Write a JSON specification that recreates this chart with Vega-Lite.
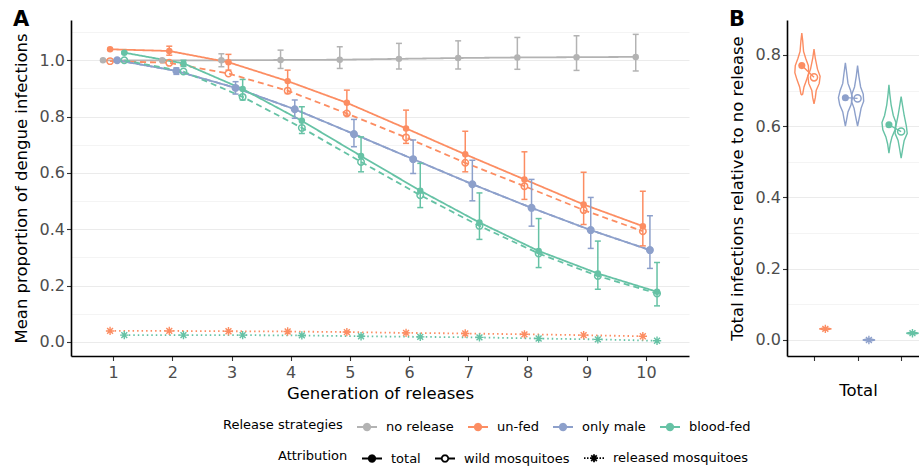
{
  "$schema": "https://vega.github.io/schema/vega-lite/v6.json",
  "padding": {"left": 13, "top": 9, "right": 0, "bottom": 0},
  "spacing": 40,
  "config": {
    "font": "DejaVu Sans",
    "view": {"stroke": null},
    "axis": {"domainColor": "black", "domainWidth": 1.6, "tickColor": "#333333", "tickWidth": 1.1, "tickSize": 4.5, "labelColor": "#4D4D4D", "labelFontSize": 16, "titleFontSize": 16.5, "titleFontWeight": "normal", "titleColor": "black", "grid": false, "labelFont": "DejaVu Sans", "titleFont": "DejaVu Sans"},
    "legend": {"padding": 0, "labelFont": "DejaVu Sans", "titleFont": "DejaVu Sans", "labelFontSize": 13, "titleFontSize": 13, "titleFontWeight": "normal", "labelColor": "black", "titleColor": "black"},
    "title": {"anchor": "start", "frame": "bounds", "fontSize": 21, "fontWeight": "bold", "font": "DejaVu Sans", "offset": -10, "baseline": "alphabetic", "color": "black"}
  },
  "datasets": {
    "a": [
      {"gen": 1, "strategy": "no release", "attribution": "total", "value": 1.0, "lo": 0.998, "hi": 1.002},
      {"gen": 2, "strategy": "no release", "attribution": "total", "value": 1.0, "lo": 0.995, "hi": 1.005},
      {"gen": 3, "strategy": "no release", "attribution": "total", "value": 1.0, "lo": 0.977, "hi": 1.023},
      {"gen": 4, "strategy": "no release", "attribution": "total", "value": 1.001, "lo": 0.971, "hi": 1.036},
      {"gen": 5, "strategy": "no release", "attribution": "total", "value": 1.002, "lo": 0.971, "hi": 1.048},
      {"gen": 6, "strategy": "no release", "attribution": "total", "value": 1.005, "lo": 0.969, "hi": 1.06},
      {"gen": 7, "strategy": "no release", "attribution": "total", "value": 1.008, "lo": 0.969, "hi": 1.069},
      {"gen": 8, "strategy": "no release", "attribution": "total", "value": 1.01, "lo": 0.968, "hi": 1.081},
      {"gen": 9, "strategy": "no release", "attribution": "total", "value": 1.011, "lo": 0.964, "hi": 1.087},
      {"gen": 10, "strategy": "no release", "attribution": "total", "value": 1.012, "lo": 0.962, "hi": 1.092},
      {"gen": 1, "strategy": "un-fed", "attribution": "total", "value": 1.039, "lo": 1.036, "hi": 1.042},
      {"gen": 2, "strategy": "un-fed", "attribution": "total", "value": 1.033, "lo": 1.018, "hi": 1.05},
      {"gen": 3, "strategy": "un-fed", "attribution": "total", "value": 0.993, "lo": 0.965, "hi": 1.021},
      {"gen": 4, "strategy": "un-fed", "attribution": "total", "value": 0.926, "lo": 0.882, "hi": 0.965},
      {"gen": 5, "strategy": "un-fed", "attribution": "total", "value": 0.849, "lo": 0.805, "hi": 0.894},
      {"gen": 6, "strategy": "un-fed", "attribution": "total", "value": 0.758, "lo": 0.705, "hi": 0.823},
      {"gen": 7, "strategy": "un-fed", "attribution": "total", "value": 0.666, "lo": 0.604, "hi": 0.748},
      {"gen": 8, "strategy": "un-fed", "attribution": "total", "value": 0.577, "lo": 0.506, "hi": 0.675},
      {"gen": 9, "strategy": "un-fed", "attribution": "total", "value": 0.488, "lo": 0.417, "hi": 0.602},
      {"gen": 10, "strategy": "un-fed", "attribution": "total", "value": 0.411, "lo": 0.341, "hi": 0.535},
      {"gen": 1, "strategy": "un-fed", "attribution": "wild mosquitoes", "value": 0.997},
      {"gen": 2, "strategy": "un-fed", "attribution": "wild mosquitoes", "value": 0.991},
      {"gen": 3, "strategy": "un-fed", "attribution": "wild mosquitoes", "value": 0.953},
      {"gen": 4, "strategy": "un-fed", "attribution": "wild mosquitoes", "value": 0.892},
      {"gen": 5, "strategy": "un-fed", "attribution": "wild mosquitoes", "value": 0.811},
      {"gen": 6, "strategy": "un-fed", "attribution": "wild mosquitoes", "value": 0.726},
      {"gen": 7, "strategy": "un-fed", "attribution": "wild mosquitoes", "value": 0.636},
      {"gen": 8, "strategy": "un-fed", "attribution": "wild mosquitoes", "value": 0.553},
      {"gen": 9, "strategy": "un-fed", "attribution": "wild mosquitoes", "value": 0.468},
      {"gen": 10, "strategy": "un-fed", "attribution": "wild mosquitoes", "value": 0.393},
      {"gen": 1, "strategy": "un-fed", "attribution": "released mosquitoes", "value": 0.039},
      {"gen": 2, "strategy": "un-fed", "attribution": "released mosquitoes", "value": 0.039},
      {"gen": 3, "strategy": "un-fed", "attribution": "released mosquitoes", "value": 0.038},
      {"gen": 4, "strategy": "un-fed", "attribution": "released mosquitoes", "value": 0.037},
      {"gen": 5, "strategy": "un-fed", "attribution": "released mosquitoes", "value": 0.035},
      {"gen": 6, "strategy": "un-fed", "attribution": "released mosquitoes", "value": 0.032},
      {"gen": 7, "strategy": "un-fed", "attribution": "released mosquitoes", "value": 0.03},
      {"gen": 8, "strategy": "un-fed", "attribution": "released mosquitoes", "value": 0.027},
      {"gen": 9, "strategy": "un-fed", "attribution": "released mosquitoes", "value": 0.024},
      {"gen": 10, "strategy": "un-fed", "attribution": "released mosquitoes", "value": 0.02},
      {"gen": 1, "strategy": "only male", "attribution": "total", "value": 1.0, "lo": 0.998, "hi": 1.002},
      {"gen": 2, "strategy": "only male", "attribution": "total", "value": 0.962, "lo": 0.95, "hi": 0.973},
      {"gen": 3, "strategy": "only male", "attribution": "total", "value": 0.902, "lo": 0.88, "hi": 0.924},
      {"gen": 4, "strategy": "only male", "attribution": "total", "value": 0.826, "lo": 0.794, "hi": 0.859},
      {"gen": 5, "strategy": "only male", "attribution": "total", "value": 0.738, "lo": 0.693, "hi": 0.79},
      {"gen": 6, "strategy": "only male", "attribution": "total", "value": 0.649, "lo": 0.598, "hi": 0.717},
      {"gen": 7, "strategy": "only male", "attribution": "total", "value": 0.56, "lo": 0.501, "hi": 0.645},
      {"gen": 8, "strategy": "only male", "attribution": "total", "value": 0.476, "lo": 0.411, "hi": 0.577},
      {"gen": 9, "strategy": "only male", "attribution": "total", "value": 0.397, "lo": 0.332, "hi": 0.513},
      {"gen": 10, "strategy": "only male", "attribution": "total", "value": 0.326, "lo": 0.261, "hi": 0.448},
      {"gen": 1, "strategy": "only male", "attribution": "wild mosquitoes", "value": 1.0},
      {"gen": 2, "strategy": "only male", "attribution": "wild mosquitoes", "value": 0.962},
      {"gen": 3, "strategy": "only male", "attribution": "wild mosquitoes", "value": 0.902},
      {"gen": 4, "strategy": "only male", "attribution": "wild mosquitoes", "value": 0.826},
      {"gen": 5, "strategy": "only male", "attribution": "wild mosquitoes", "value": 0.738},
      {"gen": 6, "strategy": "only male", "attribution": "wild mosquitoes", "value": 0.649},
      {"gen": 7, "strategy": "only male", "attribution": "wild mosquitoes", "value": 0.56},
      {"gen": 8, "strategy": "only male", "attribution": "wild mosquitoes", "value": 0.476},
      {"gen": 9, "strategy": "only male", "attribution": "wild mosquitoes", "value": 0.397},
      {"gen": 10, "strategy": "only male", "attribution": "wild mosquitoes", "value": 0.326},
      {"gen": 1, "strategy": "blood-fed", "attribution": "total", "value": 1.027, "lo": 1.024, "hi": 1.03},
      {"gen": 2, "strategy": "blood-fed", "attribution": "total", "value": 0.989, "lo": 0.978, "hi": 1.0},
      {"gen": 3, "strategy": "blood-fed", "attribution": "total", "value": 0.898, "lo": 0.859, "hi": 0.932},
      {"gen": 4, "strategy": "blood-fed", "attribution": "total", "value": 0.785, "lo": 0.74, "hi": 0.835},
      {"gen": 5, "strategy": "blood-fed", "attribution": "total", "value": 0.66, "lo": 0.604, "hi": 0.728},
      {"gen": 6, "strategy": "blood-fed", "attribution": "total", "value": 0.537, "lo": 0.477, "hi": 0.634},
      {"gen": 7, "strategy": "blood-fed", "attribution": "total", "value": 0.424, "lo": 0.364, "hi": 0.529},
      {"gen": 8, "strategy": "blood-fed", "attribution": "total", "value": 0.323, "lo": 0.264, "hi": 0.438},
      {"gen": 9, "strategy": "blood-fed", "attribution": "total", "value": 0.243, "lo": 0.187, "hi": 0.358},
      {"gen": 10, "strategy": "blood-fed", "attribution": "total", "value": 0.178, "lo": 0.128, "hi": 0.282},
      {"gen": 1, "strategy": "blood-fed", "attribution": "wild mosquitoes", "value": 1.0},
      {"gen": 2, "strategy": "blood-fed", "attribution": "wild mosquitoes", "value": 0.96},
      {"gen": 3, "strategy": "blood-fed", "attribution": "wild mosquitoes", "value": 0.87},
      {"gen": 4, "strategy": "blood-fed", "attribution": "wild mosquitoes", "value": 0.76},
      {"gen": 5, "strategy": "blood-fed", "attribution": "wild mosquitoes", "value": 0.639},
      {"gen": 6, "strategy": "blood-fed", "attribution": "wild mosquitoes", "value": 0.521},
      {"gen": 7, "strategy": "blood-fed", "attribution": "wild mosquitoes", "value": 0.412},
      {"gen": 8, "strategy": "blood-fed", "attribution": "wild mosquitoes", "value": 0.314},
      {"gen": 9, "strategy": "blood-fed", "attribution": "wild mosquitoes", "value": 0.234},
      {"gen": 10, "strategy": "blood-fed", "attribution": "wild mosquitoes", "value": 0.172},
      {"gen": 1, "strategy": "blood-fed", "attribution": "released mosquitoes", "value": 0.024},
      {"gen": 2, "strategy": "blood-fed", "attribution": "released mosquitoes", "value": 0.024},
      {"gen": 3, "strategy": "blood-fed", "attribution": "released mosquitoes", "value": 0.024},
      {"gen": 4, "strategy": "blood-fed", "attribution": "released mosquitoes", "value": 0.023},
      {"gen": 5, "strategy": "blood-fed", "attribution": "released mosquitoes", "value": 0.02},
      {"gen": 6, "strategy": "blood-fed", "attribution": "released mosquitoes", "value": 0.018},
      {"gen": 7, "strategy": "blood-fed", "attribution": "released mosquitoes", "value": 0.016},
      {"gen": 8, "strategy": "blood-fed", "attribution": "released mosquitoes", "value": 0.012},
      {"gen": 9, "strategy": "blood-fed", "attribution": "released mosquitoes", "value": 0.009},
      {"gen": 10, "strategy": "blood-fed", "attribution": "released mosquitoes", "value": 0.004}
    ],
    "violin": [
      {"strategy": "un-fed", "attribution": "total", "value": 0.861, "xmin": 0.72, "xmax": 0.72},
      {"strategy": "un-fed", "attribution": "total", "value": 0.84, "xmin": 0.70, "xmax": 0.74},
      {"strategy": "un-fed", "attribution": "total", "value": 0.81, "xmin": 0.68, "xmax": 0.76},
      {"strategy": "un-fed", "attribution": "total", "value": 0.79, "xmin": 0.63, "xmax": 0.81},
      {"strategy": "un-fed", "attribution": "total", "value": 0.77, "xmin": 0.57, "xmax": 0.87},
      {"strategy": "un-fed", "attribution": "total", "value": 0.75, "xmin": 0.56, "xmax": 0.88},
      {"strategy": "un-fed", "attribution": "total", "value": 0.73, "xmin": 0.61, "xmax": 0.83},
      {"strategy": "un-fed", "attribution": "total", "value": 0.71, "xmin": 0.67, "xmax": 0.77},
      {"strategy": "un-fed", "attribution": "total", "value": 0.69, "xmin": 0.70, "xmax": 0.74},
      {"strategy": "un-fed", "attribution": "total", "value": 0.688, "xmin": 0.72, "xmax": 0.72},
      {"strategy": "un-fed", "attribution": "wild mosquitoes", "value": 0.816, "xmin": 1.0, "xmax": 1.0},
      {"strategy": "un-fed", "attribution": "wild mosquitoes", "value": 0.79, "xmin": 0.97, "xmax": 1.03},
      {"strategy": "un-fed", "attribution": "wild mosquitoes", "value": 0.76, "xmin": 0.92, "xmax": 1.08},
      {"strategy": "un-fed", "attribution": "wild mosquitoes", "value": 0.74, "xmin": 0.86, "xmax": 1.14},
      {"strategy": "un-fed", "attribution": "wild mosquitoes", "value": 0.72, "xmin": 0.88, "xmax": 1.12},
      {"strategy": "un-fed", "attribution": "wild mosquitoes", "value": 0.70, "xmin": 0.95, "xmax": 1.05},
      {"strategy": "un-fed", "attribution": "wild mosquitoes", "value": 0.68, "xmin": 0.97, "xmax": 1.03},
      {"strategy": "un-fed", "attribution": "wild mosquitoes", "value": 0.663, "xmin": 1.0, "xmax": 1.0},
      {"strategy": "only male", "attribution": "total", "value": 0.778, "xmin": 1.72, "xmax": 1.72},
      {"strategy": "only male", "attribution": "total", "value": 0.75, "xmin": 1.69, "xmax": 1.75},
      {"strategy": "only male", "attribution": "total", "value": 0.72, "xmin": 1.66, "xmax": 1.78},
      {"strategy": "only male", "attribution": "total", "value": 0.70, "xmin": 1.60, "xmax": 1.84},
      {"strategy": "only male", "attribution": "total", "value": 0.68, "xmin": 1.56, "xmax": 1.88},
      {"strategy": "only male", "attribution": "total", "value": 0.66, "xmin": 1.59, "xmax": 1.85},
      {"strategy": "only male", "attribution": "total", "value": 0.64, "xmin": 1.66, "xmax": 1.78},
      {"strategy": "only male", "attribution": "total", "value": 0.62, "xmin": 1.69, "xmax": 1.75},
      {"strategy": "only male", "attribution": "total", "value": 0.60, "xmin": 1.72, "xmax": 1.72},
      {"strategy": "only male", "attribution": "wild mosquitoes", "value": 0.77, "xmin": 2.0, "xmax": 2.0},
      {"strategy": "only male", "attribution": "wild mosquitoes", "value": 0.74, "xmin": 1.97, "xmax": 2.03},
      {"strategy": "only male", "attribution": "wild mosquitoes", "value": 0.71, "xmin": 1.93, "xmax": 2.07},
      {"strategy": "only male", "attribution": "wild mosquitoes", "value": 0.69, "xmin": 1.87, "xmax": 2.13},
      {"strategy": "only male", "attribution": "wild mosquitoes", "value": 0.67, "xmin": 1.86, "xmax": 2.14},
      {"strategy": "only male", "attribution": "wild mosquitoes", "value": 0.65, "xmin": 1.92, "xmax": 2.08},
      {"strategy": "only male", "attribution": "wild mosquitoes", "value": 0.63, "xmin": 1.95, "xmax": 2.05},
      {"strategy": "only male", "attribution": "wild mosquitoes", "value": 0.60, "xmin": 2.0, "xmax": 2.0},
      {"strategy": "blood-fed", "attribution": "total", "value": 0.716, "xmin": 2.72, "xmax": 2.72},
      {"strategy": "blood-fed", "attribution": "total", "value": 0.69, "xmin": 2.70, "xmax": 2.74},
      {"strategy": "blood-fed", "attribution": "total", "value": 0.66, "xmin": 2.67, "xmax": 2.77},
      {"strategy": "blood-fed", "attribution": "total", "value": 0.63, "xmin": 2.62, "xmax": 2.82},
      {"strategy": "blood-fed", "attribution": "total", "value": 0.61, "xmin": 2.56, "xmax": 2.88},
      {"strategy": "blood-fed", "attribution": "total", "value": 0.59, "xmin": 2.58, "xmax": 2.86},
      {"strategy": "blood-fed", "attribution": "total", "value": 0.57, "xmin": 2.65, "xmax": 2.79},
      {"strategy": "blood-fed", "attribution": "total", "value": 0.55, "xmin": 2.69, "xmax": 2.75},
      {"strategy": "blood-fed", "attribution": "total", "value": 0.524, "xmin": 2.72, "xmax": 2.72},
      {"strategy": "blood-fed", "attribution": "wild mosquitoes", "value": 0.683, "xmin": 3.0, "xmax": 3.0},
      {"strategy": "blood-fed", "attribution": "wild mosquitoes", "value": 0.66, "xmin": 2.97, "xmax": 3.03},
      {"strategy": "blood-fed", "attribution": "wild mosquitoes", "value": 0.63, "xmin": 2.93, "xmax": 3.07},
      {"strategy": "blood-fed", "attribution": "wild mosquitoes", "value": 0.60, "xmin": 2.88, "xmax": 3.12},
      {"strategy": "blood-fed", "attribution": "wild mosquitoes", "value": 0.58, "xmin": 2.86, "xmax": 3.14},
      {"strategy": "blood-fed", "attribution": "wild mosquitoes", "value": 0.56, "xmin": 2.93, "xmax": 3.07},
      {"strategy": "blood-fed", "attribution": "wild mosquitoes", "value": 0.54, "xmin": 2.96, "xmax": 3.04},
      {"strategy": "blood-fed", "attribution": "wild mosquitoes", "value": 0.51, "xmin": 3.0, "xmax": 3.0},
      {"strategy": "un-fed", "attribution": "released mosquitoes", "value": 0.035, "xmin": 1.26, "xmax": 1.26},
      {"strategy": "un-fed", "attribution": "released mosquitoes", "value": 0.031, "xmin": 1.12, "xmax": 1.40},
      {"strategy": "un-fed", "attribution": "released mosquitoes", "value": 0.027, "xmin": 1.26, "xmax": 1.26},
      {"strategy": "only male", "attribution": "released mosquitoes", "value": 0.004, "xmin": 2.26, "xmax": 2.26},
      {"strategy": "only male", "attribution": "released mosquitoes", "value": 0.0, "xmin": 2.12, "xmax": 2.40},
      {"strategy": "only male", "attribution": "released mosquitoes", "value": -0.004, "xmin": 2.26, "xmax": 2.26},
      {"strategy": "blood-fed", "attribution": "released mosquitoes", "value": 0.023, "xmin": 3.26, "xmax": 3.26},
      {"strategy": "blood-fed", "attribution": "released mosquitoes", "value": 0.019, "xmin": 3.12, "xmax": 3.40},
      {"strategy": "blood-fed", "attribution": "released mosquitoes", "value": 0.015, "xmin": 3.26, "xmax": 3.26}
    ],
    "bpts": [
      {"strategy": "un-fed", "attribution": "total", "x": 0.72, "value": 0.77},
      {"strategy": "un-fed", "attribution": "wild mosquitoes", "x": 1.0, "value": 0.737},
      {"strategy": "un-fed", "attribution": "released mosquitoes", "x": 1.26, "value": 0.031},
      {"strategy": "only male", "attribution": "total", "x": 1.72, "value": 0.68},
      {"strategy": "only male", "attribution": "wild mosquitoes", "x": 2.0, "value": 0.678},
      {"strategy": "only male", "attribution": "released mosquitoes", "x": 2.26, "value": 0.0},
      {"strategy": "blood-fed", "attribution": "total", "x": 2.72, "value": 0.604},
      {"strategy": "blood-fed", "attribution": "wild mosquitoes", "x": 3.0, "value": 0.585},
      {"strategy": "blood-fed", "attribution": "released mosquitoes", "x": 3.26, "value": 0.019}
    ]
  },
  "hconcat": [
    {
      "width": 618,
      "height": 336,
      "title": {"text": "A"},
      "data": {"name": "a"},
      "encoding": {
        "x": {"field": "gen", "type": "ordinal", "scale": {"type": "band", "paddingInner": 0, "paddingOuter": 0.22}, "axis": {"title": "Generation of releases", "labelAngle": 0, "labelPadding": 4, "titlePadding": 5}},
        "xOffset": {"field": "strategy", "type": "nominal", "scale": {"domain": ["no release", "un-fed", "only male", "blood-fed"], "range": [15.4, 43.8], "paddingInner": 0, "paddingOuter": 0}},
        "y": {"field": "value", "type": "quantitative", "scale": {"domain": [-0.05, 1.143], "nice": false, "zero": false},
          "axis": {"title": "Mean proportion of dengue infections", "values": [0, 0.1, 0.2, 0.3, 0.4, 0.5, 0.6, 0.7, 0.8, 0.9, 1.0, 1.1], "grid": true,
            "gridColor": {"condition": {"test": "round(datum.value*10) % 2 === 0", "value": "#EBEBEB"}, "value": "#F4F4F4"},
            "gridWidth": 1.1,
            "labelExpr": "round(datum.value*10) % 2 === 0 ? format(datum.value, '.1f') : ''",
            "tickOpacity": {"condition": {"test": "round(datum.value*10) % 2 === 0", "value": 1}, "value": 0},
            "labelPadding": 2, "titlePadding": 10}},
        "color": {"field": "strategy", "type": "nominal", "scale": {"domain": ["no release", "un-fed", "only male", "blood-fed"], "range": ["#B3B3B3", "#FC8D62", "#8DA0CB", "#66C2A5"]},
          "legend": {"orient": "none", "legendX": 152, "legendY": 396, "direction": "horizontal", "title": "Release strategies", "titleOrient": "left", "titlePadding": 13, "titleBaseline": "middle", "titleAnchor": "middle",
            "symbolType": "M-1,0L1,0M0.33,0L0.286,0.165L0.165,0.286L0,0.33L-0.165,0.286L-0.286,0.165L-0.33,0L-0.286,-0.165L-0.165,-0.286L0,-0.33L0.165,-0.286L0.286,-0.165Z", "symbolSize": 400, "symbolStrokeWidth": 1.8, "labelOffset": 8, "columnPadding": 10,
            "encode": {"symbols": {"update": {"fill": {"signal": "{'no release':'#B3B3B3','un-fed':'#FC8D62','only male':'#8DA0CB','blood-fed':'#66C2A5'}[datum.value]"}, "stroke": {"signal": "{'no release':'#B3B3B3','un-fed':'#FC8D62','only male':'#8DA0CB','blood-fed':'#66C2A5'}[datum.value]"}, "opacity": {"value": 1}, "strokeDash": {"signal": "[1,0]"}}}}}}
      },
      "layer": [
        {
          "mark": {"type": "line", "strokeWidth": 1.8},
          "encoding": {
            "strokeDash": {"field": "attribution", "type": "nominal", "scale": {"domain": ["total", "wild mosquitoes", "released mosquitoes"], "range": [[1, 0], [6, 4], [1.5, 3]]},
              "legend": {"orient": "none", "legendX": 207, "legendY": 427, "direction": "horizontal", "title": "Attribution", "titleOrient": "left", "titlePadding": 13, "titleBaseline": "middle", "titleAnchor": "middle",
                "symbolSize": 400, "symbolStrokeWidth": 1.8, "labelOffset": 8, "columnPadding": 10,
                "encode": {"symbols": {"update": {
                  "shape": {"signal": "datum.value === 'total' ? 'M-1,0L1,0M0.33,0L0.286,0.165L0.165,0.286L0,0.33L-0.165,0.286L-0.286,0.165L-0.33,0L-0.286,-0.165L-0.165,-0.286L0,-0.33L0.165,-0.286L0.286,-0.165Z' : datum.value === 'wild mosquitoes' ? 'M-1,0L-0.66,0M-0.66,0L-0.33,0M0.33,0L0.66,0M0.66,0L1,0M0.33,0L0.286,0.165L0.165,0.286L0,0.33M0,0.33L-0.165,0.286L-0.286,0.165L-0.33,0M-0.33,0L-0.286,-0.165L-0.165,-0.286L0,-0.33M0,-0.33L0.165,-0.286L0.286,-0.165L0.33,0' : 'M-1,0L-0.85,0M-0.7,0L-0.55,0M0.55,0L0.7,0M0.85,0L1,0M0,0L0.14,0M0.14,0L0.28,0M0.28,0L0.4,0M0,0L-0.14,0M-0.14,0L-0.28,0M-0.28,0L-0.4,0M0,0L0,0.14M0,0.14L0,0.28M0,0.28L0,0.4M0,0L0,-0.14M0,-0.14L0,-0.28M0,-0.28L0,-0.4M0,0L0.1,0.1M0.1,0.1L0.2,0.2M0.2,0.2L0.28,0.28M0,0L-0.1,-0.1M-0.1,-0.1L-0.2,-0.2M-0.2,-0.2L-0.28,-0.28M0,0L0.1,-0.1M0.1,-0.1L0.2,-0.2M0.2,-0.2L0.28,-0.28M0,0L-0.1,0.1M-0.1,0.1L-0.2,0.2M-0.2,0.2L-0.28,0.28'"},
                  "fill": {"signal": "datum.value === 'total' ? 'black' : 'transparent'"},
                  "stroke": {"value": "black"}, "opacity": {"value": 1}, "strokeDash": {"signal": "[1,0]"}}}}}}
          }
        },
        {
          "transform": [{"filter": "datum.lo != null"}],
          "mark": {"type": "rule", "strokeWidth": 1.5},
          "encoding": {
            "y": {"field": "lo", "type": "quantitative"},
            "y2": {"field": "hi"}
          }
        },
        {
          "transform": [{"filter": "datum.lo != null"}],
          "mark": {"type": "tick", "orient": "horizontal", "size": 6, "thickness": 1.5, "opacity": 1},
          "encoding": {
            "y": {"field": "lo", "type": "quantitative"}
          }
        },
        {
          "transform": [{"filter": "datum.lo != null"}],
          "mark": {"type": "tick", "orient": "horizontal", "size": 6, "thickness": 1.5, "opacity": 1},
          "encoding": {
            "y": {"field": "hi", "type": "quantitative"}
          }
        },
        {
          "transform": [{"filter": "datum.attribution === 'total'"}],
          "mark": {"type": "point", "filled": true, "shape": "circle", "size": 42, "opacity": 1}
        },
        {
          "transform": [{"filter": "datum.attribution === 'wild mosquitoes'"}],
          "mark": {"type": "point", "filled": false, "shape": "circle", "size": 42, "strokeWidth": 1.5, "opacity": 1}
        },
        {
          "transform": [{"filter": "datum.attribution === 'released mosquitoes'"}],
          "mark": {"type": "point", "filled": false, "shape": "M-1,0L1,0M0,-1L0,1M-0.7,-0.7L0.7,0.7M-0.7,0.7L0.7,-0.7", "size": 70, "strokeWidth": 1.4, "opacity": 1}
        }
      ]
    },
    {
      "width": 132,
      "height": 336,
      "title": {"text": "B"},
      "encoding": {
        "y": {"field": "value", "type": "quantitative", "scale": {"domain": [-0.045, 0.898], "nice": false, "zero": false},
          "axis": {"title": "Total infections relative to no release", "values": [0, 0.1, 0.2, 0.3, 0.4, 0.5, 0.6, 0.7, 0.8], "grid": true,
            "gridColor": {"condition": {"test": "round(datum.value*10) % 2 === 0", "value": "#EBEBEB"}, "value": "#F4F4F4"},
            "gridWidth": 1.1,
            "labelExpr": "round(datum.value*10) % 2 === 0 ? format(datum.value, '.1f') : ''",
            "tickOpacity": {"condition": {"test": "round(datum.value*10) % 2 === 0", "value": 1}, "value": 0},
            "labelPadding": 2, "titlePadding": 10}},
        "x": {"field": "x", "type": "quantitative", "scale": {"domain": [0.38, 3.41], "nice": false, "zero": false},
          "axis": {"title": "Total", "values": [1, 2, 3], "labels": false, "titlePadding": 21, "titleX": 71}},
        "color": {"field": "strategy", "type": "nominal", "legend": null}
      },
      "layer": [
        {
          "data": {"name": "violin"},
          "mark": {"type": "area", "orient": "horizontal", "filled": false, "strokeWidth": 1.4, "clip": true},
          "encoding": {
            "x": {"field": "xmin", "type": "quantitative", "stack": null},
            "x2": {"field": "xmax"},
            "detail": {"field": "attribution"},
            "strokeDash": {"field": "attribution", "type": "nominal", "legend": null}
          }
        },
        {
          "data": {"name": "bpts"},
          "transform": [{"filter": "datum.attribution !== 'released mosquitoes'"}],
          "mark": {"type": "line", "strokeWidth": 1.4, "clip": true},
          "encoding": {
            "detail": {"field": "strategy"}
          }
        },
        {
          "data": {"name": "bpts"},
          "transform": [{"filter": "datum.attribution === 'total'"}],
          "mark": {"type": "point", "filled": true, "shape": "circle", "size": 50, "opacity": 1, "clip": true}
        },
        {
          "data": {"name": "bpts"},
          "transform": [{"filter": "datum.attribution === 'wild mosquitoes'"}],
          "mark": {"type": "point", "filled": false, "shape": "circle", "size": 50, "strokeWidth": 1.5, "opacity": 1, "clip": true}
        },
        {
          "data": {"name": "bpts"},
          "transform": [{"filter": "datum.attribution === 'released mosquitoes'"}],
          "mark": {"type": "point", "filled": false, "shape": "M-1,0L1,0M0,-1L0,1M-0.7,-0.7L0.7,0.7M-0.7,0.7L0.7,-0.7", "size": 70, "strokeWidth": 1.4, "opacity": 1, "clip": true}
        }
      ]
    }
  ]
}
